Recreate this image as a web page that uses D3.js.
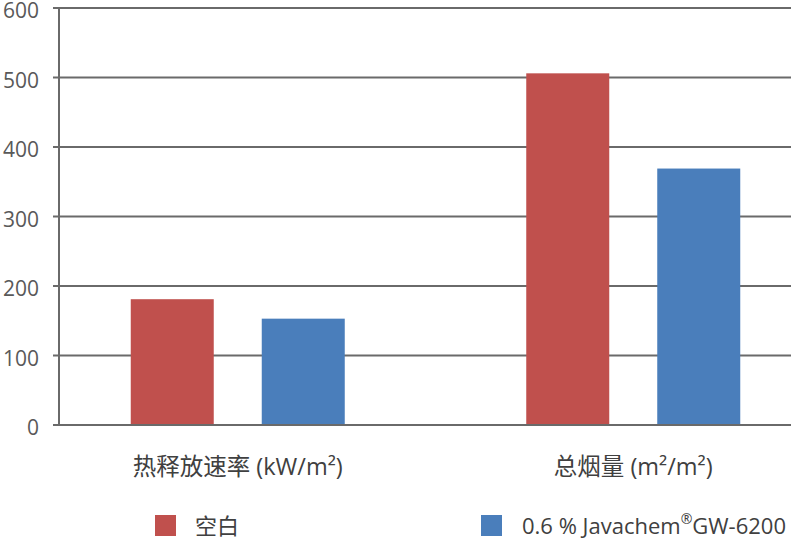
<!DOCTYPE html>
<html><head><meta charset="utf-8">
<script src="https://cdn.jsdelivr.net/npm/d3@7/dist/d3.min.js"></script>
<style>body{margin:0;background:#fff}svg{display:block}</style>
</head><body>
<svg id="c" width="791" height="538"></svg>
<script>
const categories = ["热释放速率 (kW/m²)", "总烟量 (m²/m²)"];
const seriesNames = ["空白", "0.6 % Javachem®GW-6200"];
const blank = [181, 506];
const treated = [153, 369];
const yTicks = [0, 100, 200, 300, 400, 500, 600];
const colors = ["#c0504d", "#4a7ebb"];

const svg = d3.select("#c");
const font = "'Open Sans','Noto Sans CJK SC',sans-serif";
const y = d3.scaleLinear().domain([0, 600]).range([425, 8]);
const x0 = d3.scaleBand().domain(categories).range([40, 831]).paddingInner(0).paddingOuter(0);
const x1 = d3.scaleBand().domain(seriesNames).range([-107, 107]).paddingInner(0.3664).paddingOuter(0);

// gridlines
svg.append("g").selectAll("line").data(yTicks).join("line")
  .attr("x1", 53).attr("x2", 791)
  .attr("y1", d => y(d)).attr("y2", d => y(d))
  .attr("stroke", "#6a6a6a").attr("stroke-width", 2);
// axis line
svg.append("line").attr("x1", 59).attr("x2", 59).attr("y1", y(600)).attr("y2", y(0))
  .attr("stroke", "#6a6a6a").attr("stroke-width", 2);
// tick labels
svg.append("g").selectAll("text").data(yTicks).join("text")
  .attr("x", 39).attr("y", d => y(d) + 10).attr("text-anchor", "end")
  .attr("font-family", font).attr("font-size", 21).attr("fill", "#595959")
  .text(d => d);

// bars
const data = categories.map((c, i) => ({c, vals: [blank[i], treated[i]]}));
const g = svg.append("g").selectAll("g").data(data).join("g")
  .attr("transform", d => `translate(${x0(d.c) + x0.bandwidth() / 2},0)`);
g.selectAll("rect").data(d => d.vals.map((v, j) => ({v, s: seriesNames[j], j}))).join("rect")
  .attr("x", d => x1(d.s)).attr("width", x1.bandwidth())
  .attr("y", d => y(d.v)).attr("height", d => y(0) - y(d.v))
  .attr("fill", d => colors[d.j]);

// redraw baseline over bars
svg.append("line").attr("x1", 53).attr("x2", 791).attr("y1", y(0)).attr("y2", y(0))
  .attr("stroke", "#6a6a6a").attr("stroke-width", 2);

// category labels
svg.append("g").selectAll("text").data(categories).join("text")
  .attr("x", d => x0(d) + x0.bandwidth() / 2).attr("y", 475)
  .attr("text-anchor", "middle").attr("font-family", font).attr("font-size", 23.5)
  .attr("fill", "#404040").text(d => d);

// legend
const legX = [155, 481];
const leg = svg.append("g").selectAll("g").data(seriesNames).join("g")
  .attr("transform", (d, i) => `translate(${legX[i]},515)`);
leg.append("rect").attr("width", 21).attr("height", 21).attr("fill", (d, i) => colors[i]);
leg.append("text").attr("x", (d, i) => i === 0 ? 40 : 41).attr("y", 19)
  .attr("font-family", font).attr("font-size", 22).attr("fill", "#404040")
  .each(function(d, i) {
    const t = d3.select(this);
    if (i === 0) { t.text(d); return; }
    const parts = d.split("®");
    t.append("tspan").text(parts[0]);
    t.append("tspan").attr("dy", -10).attr("font-size", 14).text("®");
    t.append("tspan").attr("dy", 10).text(parts[1]);
  });
</script>
</body></html>
